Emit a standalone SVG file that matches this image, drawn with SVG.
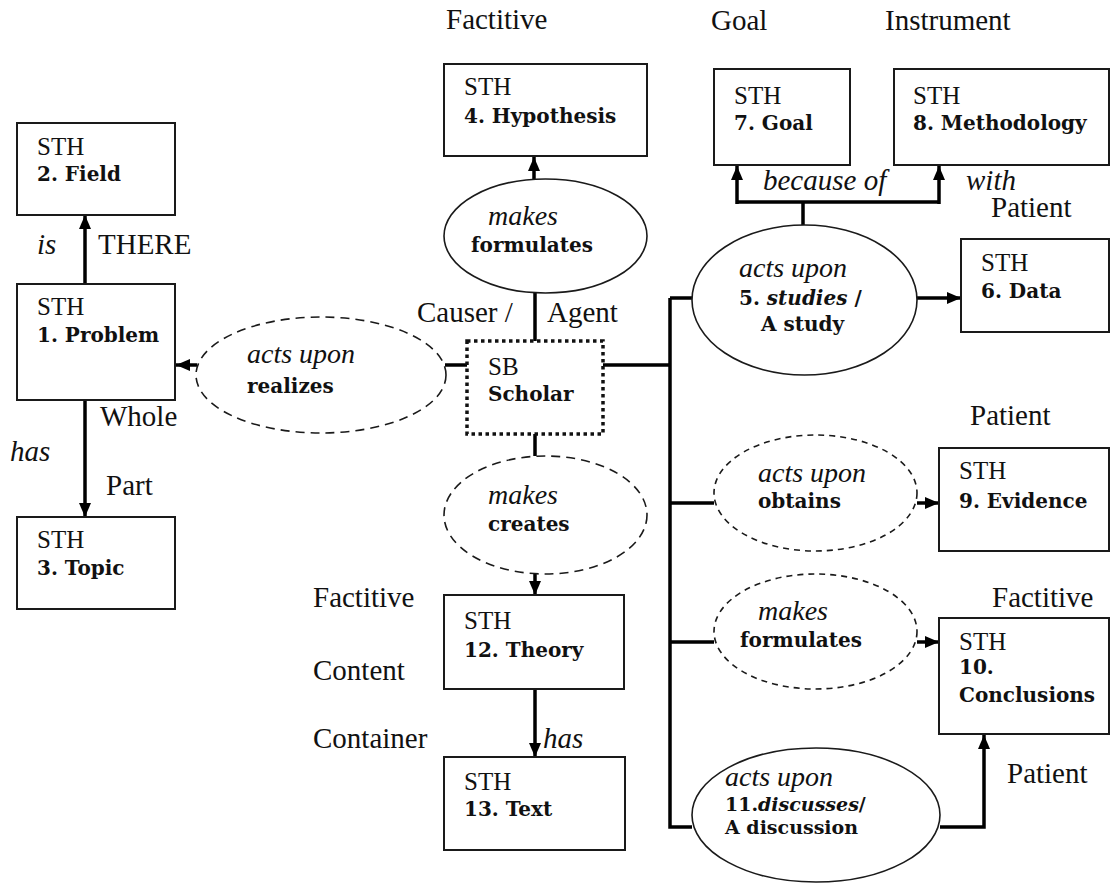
<svg xmlns="http://www.w3.org/2000/svg" width="1111" height="885" viewBox="0 0 1111 885">
<defs>
<marker id="ah" markerUnits="userSpaceOnUse" markerWidth="14" markerHeight="12" refX="14" refY="6" orient="auto">
<path d="M0,0 L14,6 L0,12 z" fill="#000"/>
</marker>
<style>
.box{fill:#fff;stroke:#1a1a1a;stroke-width:2}
.ell{fill:#fff;stroke:#1a1a1a;stroke-width:1.6}
.dl{stroke-dasharray:9,6}
.ds{stroke-dasharray:6,5}
.dot{fill:#fff;stroke:#111;stroke-width:3.5;stroke-dasharray:3.5,3.5}
.con{fill:none;stroke:#000;stroke-width:3.5}
.arr{fill:none;stroke:#000;stroke-width:3.5;marker-end:url(#ah)}
.lab{font-family:"Liberation Serif","Times New Roman",serif;font-size:29px;fill:#111}
.it{font-family:"Liberation Serif","Times New Roman",serif;font-size:29px;font-style:italic;fill:#111}
.sth{font-family:"Liberation Serif","Times New Roman",serif;font-size:25px;fill:#111}
.b{font-family:"DejaVu Serif",Georgia,serif;font-size:20px;font-weight:bold;fill:#111}
.bs{font-family:"DejaVu Serif",Georgia,serif;font-size:19px;font-weight:bold;fill:#111}
.ei{font-family:"Liberation Serif","Times New Roman",serif;font-size:28px;font-style:italic;fill:#111}
</style>
</defs>
<rect width="1111" height="885" fill="#fff"/>

<g id="connectors">
<path class="arr" d="M85,284 V215"/>
<path class="arr" d="M85,400 V517"/>
<path class="arr" d="M197,365 H176"/>
<path class="con" d="M445,365 H467"/>
<path class="con" d="M535,341 V293"/>
<path class="arr" d="M534,180 V157"/>
<path class="con" d="M535,434 V456"/>
<path class="arr" d="M535,574 V595"/>
<path class="arr" d="M535,689 V757"/>
<path class="con" d="M603,365 H670 M670,298 V827 H692 M670,298 H692 M670,503 H714 M670,642 H714"/>
<path class="arr" d="M917,298 H961"/>
<path class="con" d="M803,225 V202 M737,202 H939"/>
<path class="arr" d="M737,204 V166"/>
<path class="arr" d="M939,204 V166"/>
<path class="arr" d="M917,503 H939"/>
<path class="arr" d="M917,642 H939"/>
<path class="arr" d="M940,827 H984 V735"/>
</g>

<g id="labels">
<text class="lab" x="446" y="29">Factitive</text>
<text class="lab" x="711" y="30">Goal</text>
<text class="lab" x="885" y="30">Instrument</text>
<text class="it" x="37" y="254">is</text>
<text class="lab" x="98" y="254">THERE</text>
<text class="lab" x="100" y="426">Whole</text>
<text class="it" x="10" y="461">has</text>
<text class="lab" x="106" y="495">Part</text>
<text class="lab" x="417" y="322">Causer /</text>
<text class="lab" x="547" y="322">Agent</text>
<text class="it" x="763" y="190">because of</text>
<text class="it" x="966" y="190">with</text>
<text class="lab" x="991" y="217">Patient</text>
<text class="lab" x="970" y="425">Patient</text>
<text class="lab" x="992" y="607">Factitive</text>
<text class="lab" x="1007" y="783">Patient</text>
<text class="lab" x="313" y="607">Factitive</text>
<text class="lab" x="313" y="680">Content</text>
<text class="lab" x="313" y="748">Container</text>
<text class="it" x="543" y="748">has</text>
</g>

<g id="n2"><rect class="box" x="17" y="123" width="158" height="92"/>
<text class="sth" x="37" y="155">STH</text><text class="b" x="37" y="181">2. Field</text></g>
<g id="n1"><rect class="box" x="17" y="284" width="158" height="116"/>
<text class="sth" x="37" y="315">STH</text><text class="b" x="37" y="342">1. Problem</text></g>
<g id="n3"><rect class="box" x="17" y="517" width="158" height="92"/>
<text class="sth" x="37" y="548">STH</text><text class="b" x="37" y="575">3. Topic</text></g>

<g id="e-realizes"><ellipse class="ell dl" cx="321" cy="375" rx="125" ry="58"/>
<text class="ei" x="247" y="363">acts upon</text><text class="b" x="247" y="393">realizes</text></g>

<g id="n4"><rect class="box" x="444" y="64" width="203" height="92"/>
<text class="sth" x="464" y="95">STH</text><text class="b" x="464" y="123">4. Hypothesis</text></g>
<g id="e-formulates1"><ellipse class="ell" cx="545.5" cy="236" rx="101.5" ry="57"/>
<text class="ei" x="488" y="225">makes</text><text class="b" x="471" y="252">formulates</text></g>

<g id="scholar"><rect class="dot" x="467" y="341" width="136" height="93"/>
<text class="sth" x="488" y="375">SB</text><text class="b" x="488" y="401">Scholar</text></g>

<g id="e-creates"><ellipse class="ell dl" cx="545.5" cy="515" rx="101.5" ry="59"/>
<text class="ei" x="488" y="504">makes</text><text class="b" x="488" y="531">creates</text></g>

<g id="n12"><rect class="box" x="444" y="595" width="180" height="94"/>
<text class="sth" x="464" y="629">STH</text><text class="b" x="464" y="657">12. Theory</text></g>
<g id="n13"><rect class="box" x="444" y="757" width="181" height="93"/>
<text class="sth" x="464" y="790">STH</text><text class="b" x="464" y="816">13. Text</text></g>

<g id="n7"><rect class="box" x="714" y="69" width="136" height="96"/>
<text class="sth" x="734" y="104">STH</text><text class="b" x="734" y="130">7.  Goal</text></g>
<g id="n8"><rect class="box" x="894" y="69" width="215" height="96"/>
<text class="sth" x="913" y="104">STH</text><text class="b" x="913" y="130">8. Methodology</text></g>

<g id="e-studies"><ellipse class="ell" cx="804.5" cy="300" rx="112.5" ry="75"/>
<text class="ei" x="739" y="277">acts upon</text>
<text class="b" x="739" y="305">5. <tspan font-style="italic">studies</tspan> /</text>
<text class="b" x="761" y="331">A study</text></g>

<g id="n6"><rect class="box" x="961" y="239" width="148" height="93"/>
<text class="sth" x="981" y="271">STH</text><text class="b" x="981" y="298">6.  Data</text></g>

<g id="e-obtains"><ellipse class="ell ds" cx="815.5" cy="493" rx="101.5" ry="58"/>
<text class="ei" x="758" y="482">acts upon</text><text class="b" x="758" y="508">obtains</text></g>
<g id="n9"><rect class="box" x="939" y="448" width="170" height="103"/>
<text class="sth" x="959" y="479">STH</text><text class="b" x="959" y="508">9.  Evidence</text></g>

<g id="e-formulates2"><ellipse class="ell ds" cx="815.5" cy="631.5" rx="101.5" ry="57.5"/>
<text class="ei" x="758" y="620">makes</text><text class="b" x="740" y="647">formulates</text></g>
<g id="n10"><rect class="box" x="939" y="618" width="170" height="116"/>
<text class="sth" x="959" y="650">STH</text><text class="b" x="959" y="674">10.</text><text class="b" x="959" y="702">Conclusions</text></g>

<g id="e-discusses"><ellipse class="ell" cx="816" cy="815" rx="124" ry="67"/>
<text class="ei" x="725" y="786">acts upon</text>
<text class="bs" x="725" y="811">11.<tspan font-style="italic">discusses</tspan>/</text>
<text class="bs" x="725" y="834">A discussion</text></g>
</svg>
